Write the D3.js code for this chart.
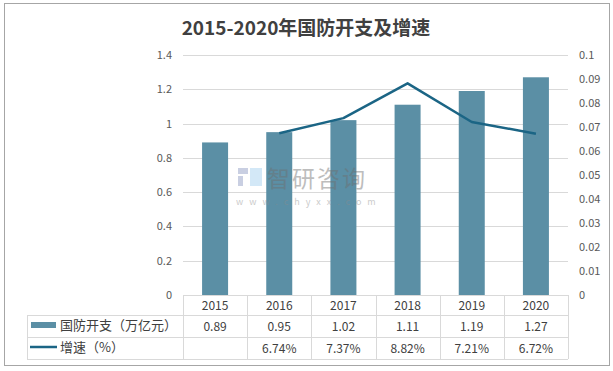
<!DOCTYPE html>
<html>
<head>
<meta charset="utf-8">
<script src="https://cdn.jsdelivr.net/npm/d3@7/dist/d3.min.js"></script>
<style>
body { margin:0; background:#fff; }
text { font-family: "Noto Sans CJK SC", "Open Sans", sans-serif; }
</style>
</head>
<body>
<div id="main"></div>
<script>
const years = ["2015", "2016", "2017", "2018", "2019", "2020"];
const spending = [0.89, 0.95, 1.02, 1.11, 1.19, 1.27];
const growth = [null, 0.0674, 0.0737, 0.0882, 0.0721, 0.0672];
const growthLabels = ["", "6.74%", "7.37%", "8.82%", "7.21%", "6.72%"];
const leftTicks = [0, 0.2, 0.4, 0.6, 0.8, 1, 1.2, 1.4];
const rightTicks = [0, 0.01, 0.02, 0.03, 0.04, 0.05, 0.06, 0.07, 0.08, 0.09, 0.1];

const width = 613, height = 371;
const barColor = "#5b8fa5", lineColor = "#1b6585", grid = "#d9d9d9";

const svg = d3.select("#main").append("svg").attr("width", width).attr("height", height);

// outer frame
svg.append("rect").attr("x", 4.5).attr("y", 3.5).attr("width", 605).attr("height", 362)
  .attr("fill", "#fff").attr("stroke", "#a6a6a6");

svg.append("text").attr("x", 306).attr("y", 35).attr("text-anchor", "middle")
  .attr("font-size", 19).attr("font-weight", "bold").attr("fill", "#404040")
  .text("2015-2020年国防开支及增速");

const x = d3.scaleBand().domain(years).range([183, 568]);
const y = d3.scaleLinear().domain([0, 1.4]).range([295, 55]);
const y2 = d3.scaleLinear().domain([0, 0.1]).range([295, 55]);

// gridlines
svg.selectAll(".grid").data(leftTicks.slice(1)).enter().append("line")
  .attr("x1", 183).attr("x2", 568)
  .attr("y1", d => Math.round(y(d)) + 0.5).attr("y2", d => Math.round(y(d)) + 0.5)
  .attr("stroke", grid);

// left axis labels
svg.selectAll(".ly").data(leftTicks).enter().append("text")
  .attr("x", 172).attr("y", d => y(d) + 4).attr("text-anchor", "end")
  .attr("font-size", 11).attr("fill", "#595959").text(d => d);

// right axis labels
svg.selectAll(".ry").data(rightTicks).enter().append("text")
  .attr("x", 579).attr("y", d => y2(d) + 4)
  .attr("font-size", 11).attr("fill", "#595959").text(d => d);

// bars
const bw = 26;
svg.selectAll(".bar").data(spending).enter().append("rect")
  .attr("x", (d, i) => x(years[i]) + x.bandwidth() / 2 - bw / 2)
  .attr("y", d => y(d)).attr("width", bw).attr("height", d => y(0) - y(d))
  .attr("fill", barColor);

// watermark (drawn over the bars, semi-transparent)
const wm = svg.append("g").attr("opacity", 0.45);
wm.append("rect").attr("x", 238).attr("y", 168).attr("width", 10).attr("height", 6).attr("fill", "#8a97c0");
wm.append("rect").attr("x", 238).attr("y", 176).attr("width", 5).attr("height", 10).attr("fill", "#8a97c0");
wm.append("rect").attr("x", 250).attr("y", 168).attr("width", 12).attr("height", 18).attr("fill", "#9fcdee");
wm.append("text").attr("x", 267).attr("y", 187).attr("font-size", 23).attr("fill", "#6e6e6e")
  .attr("letter-spacing", 2).text("智研咨询");
wm.append("text").attr("x", 236).attr("y", 205).attr("font-size", 9).attr("fill", "#8c8c8c")
  .attr("letter-spacing", 6).text("www.chyxx.com");

// line
const line = d3.line().defined(d => d != null)
  .x((d, i) => x(years[i]) + x.bandwidth() / 2).y(d => y2(d));
svg.append("path").datum(growth).attr("d", line)
  .attr("fill", "none").attr("stroke", lineColor).attr("stroke-width", 2.5)
  .attr("stroke-linejoin", "round");

// data table
const rowY = [295, 315, 337, 359];
const tbl = svg.append("g").attr("stroke", grid).attr("shape-rendering", "crispEdges");
rowY.forEach((ry, i) => {
  tbl.append("line").attr("x1", i === 0 ? 183 : 27).attr("x2", 568).attr("y1", ry + 0.5).attr("y2", ry + 0.5);
});
years.forEach((yr, i) => {
  tbl.append("line").attr("x1", x(yr) + 0.5).attr("x2", x(yr) + 0.5).attr("y1", 295).attr("y2", 359);
});
tbl.append("line").attr("x1", 568.5).attr("x2", 568.5).attr("y1", 295).attr("y2", 359);
tbl.append("line").attr("x1", 27.5).attr("x2", 27.5).attr("y1", 315).attr("y2", 359);

const cx = (d, i) => x(years[i]) + x.bandwidth() / 2;
svg.selectAll(".yr").data(years).enter().append("text")
  .attr("x", cx).attr("y", 310).attr("text-anchor", "middle")
  .attr("font-size", 12).attr("fill", "#404040").text(d => d);
svg.selectAll(".sp").data(spending).enter().append("text")
  .attr("x", cx).attr("y", 331).attr("text-anchor", "middle")
  .attr("font-size", 12).attr("fill", "#404040").text(d => d.toFixed(2));
svg.selectAll(".gr").data(growthLabels).enter().append("text")
  .attr("x", cx).attr("y", 353).attr("text-anchor", "middle")
  .attr("font-size", 12).attr("fill", "#404040").text(d => d);

// legend keys inside the table
svg.append("rect").attr("x", 31).attr("y", 322).attr("width", 25).attr("height", 6).attr("fill", barColor);
svg.append("text").attr("x", 60).attr("y", 330).attr("font-size", 13).attr("fill", "#404040").text("国防开支（万亿元）");
svg.append("line").attr("x1", 30).attr("x2", 57).attr("y1", 347).attr("y2", 347)
  .attr("stroke", lineColor).attr("stroke-width", 2.5);
svg.append("text").attr("x", 60).attr("y", 352).attr("font-size", 13).attr("fill", "#404040").text("增速（%）");
</script>
</body>
</html>
